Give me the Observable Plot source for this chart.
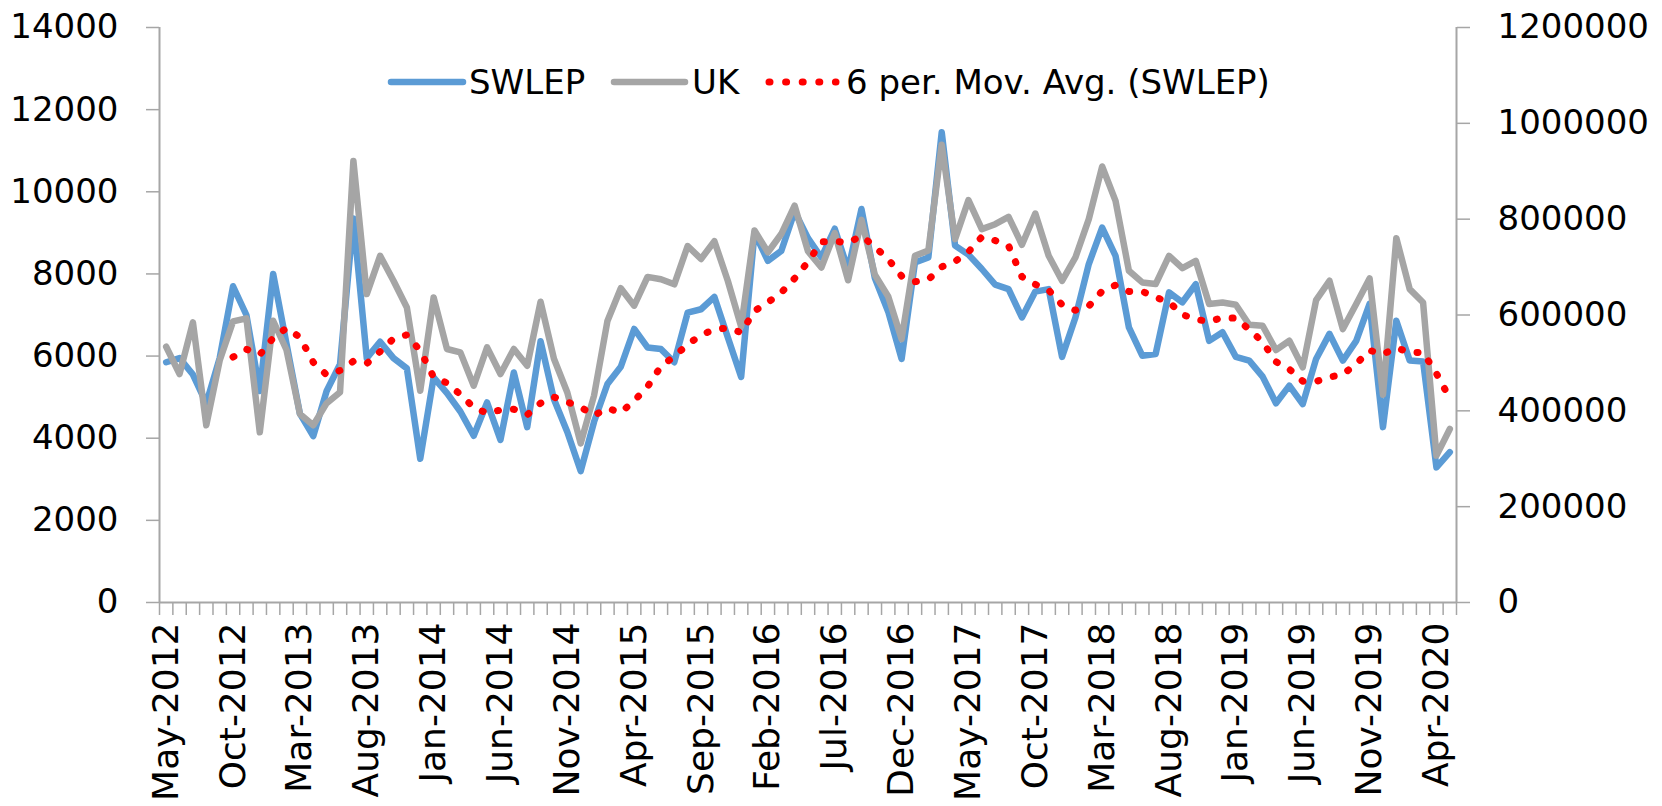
<!DOCTYPE html>
<html>
<head>
<meta charset="utf-8">
<script src="https://cdn.jsdelivr.net/npm/d3@7"></script>
<script src="https://cdn.jsdelivr.net/npm/@observablehq/plot@0.6"></script>
<style>
  html, body { margin: 0; padding: 0; background: #fff; }
  #wrap { position: relative; width: 1662px; height: 806px; }
  #wrap svg { display: block; }
  #legend { position: absolute; left: 0; top: 0; pointer-events: none; }
</style>
</head>
<body>
<div id="wrap"></div>
<script>
// Month categories (May-2012 .. May-2020)
const months = [];
{
  const mn = ["Jan","Feb","Mar","Apr","May","Jun","Jul","Aug","Sep","Oct","Nov","Dec"];
  for (let k = 0; k < 97; k++) {
    const m = (4 + k) % 12, y = 2012 + Math.floor((4 + k) / 12);
    months.push(mn[m] + "-" + y);
  }
}
// Every fifth month is labelled
const labelledMonths = ["May-2012","Oct-2012","Mar-2013","Aug-2013","Jan-2014","Jun-2014","Nov-2014","Apr-2015","Sep-2015","Feb-2016","Jul-2016","Dec-2016","May-2017","Oct-2017","Mar-2018","Aug-2018","Jan-2019","Jun-2019","Nov-2019","Apr-2020"];

// SWLEP (left axis)
const swlep = [5850,5950,5550,4850,5950,7700,7000,5150,8000,6300,
               4600,4050,5150,5800,9350,5950,6350,5950,5700,3500,
               5480,5100,4650,4060,4870,3960,5600,4270,6360,4950,
               4150,3200,4400,5320,5740,6660,6210,6170,5850,7060,
               7140,7440,6460,5490,9000,8320,8560,9520,8870,8400,
               9100,8100,9580,7900,7080,5930,8280,8400,11450,8690,
               8470,8120,7740,7630,6940,7570,7630,5980,6940,8240,
               9130,8440,6700,6010,6050,7550,7310,7750,6370,6580,
               5980,5890,5500,4850,5280,4830,5930,6540,5890,6370,
               7270,4270,6860,5890,5870,3290,3660];

// UK (right axis)
const uk = [533800,476800,584600,370000,505000,586600,593000,355200,588000,527000,
            393500,370000,416000,438600,921600,643600,723500,671400,615800,442000,
            636700,529000,522000,452500,532400,476800,529000,494100,627600,508700,
            438300,332000,432000,587500,656000,619500,679500,674500,664000,744000,
            717000,754000,671400,576000,776500,731000,769000,828000,733000,699000,
            771000,672500,798500,684000,638500,549800,723500,734500,955500,758300,
            839700,779200,789500,804900,746500,811800,723500,671400,720100,800000,
            909900,838200,692300,668000,664500,723500,697800,713100,622800,626200,
            621400,579700,577600,526900,546300,490700,631100,671400,570600,622800,
            676300,433700,760400,654100,626200,306500,362100];

const leftTicks = [0,2000,4000,6000,8000,10000,12000,14000];
const rightTicks = [0,200000,400000,600000,800000,1000000,1200000];
const leftMax = 14000, rightMax = 1200000;
const ratio = rightMax / leftMax;

const seriesNames = ["SWLEP", "UK", "6 per. Mov. Avg. (SWLEP)"];
const colors = {SWLEP: "#5B9BD5", UK: "#A5A5A5", MA: "#FF0000"};

const data = months.map((m, i) => ({month: m, pos: i + 0.5, swlep: swlep[i], uk: uk[i]}));
const labelPos = labelledMonths.map(m => months.indexOf(m) + 0.5);
const boundaries = d3.range(0, months.length + 1);

const axisColor = "#A6A6A6";
const font = "DejaVu Sans";

const chart = Plot.plot({
  width: 1662,
  height: 806,
  marginLeft: 159,
  marginRight: 206,
  marginTop: 27,
  marginBottom: 204,
  style: {fontFamily: font, fontSize: "34px", color: "#000", background: "#fff", overflow: "visible"},
  x: {type: "linear", domain: [0, months.length], axis: null},
  y: {type: "linear", domain: [0, leftMax], axis: null},
  marks: [
    // category boundary tick marks
    Plot.axisX({ticks: boundaries, tickSize: 13, tickFormat: () => "", label: null,
                stroke: axisColor, strokeWidth: 1.5}),
    // month labels
    Plot.axisX({ticks: labelPos, tickSize: 0, tickPadding: 20, tickRotate: -90, label: null,
                fontSize: 36, tickFormat: d => months[Math.round(d - 0.5)], fill: "#000"}),
    // left axis
    Plot.axisY({anchor: "left", ticks: leftTicks, tickSize: 13, tickPadding: 28, label: null,
                tickFormat: d => String(d), stroke: axisColor, strokeWidth: 1.5, fill: "#000"}),
    // right axis
    Plot.axisY({anchor: "right", ticks: rightTicks.map(t => t / ratio), tickSize: 13, tickPadding: 28, label: null,
                tickFormat: d => String(Math.round(d * ratio)), stroke: axisColor, strokeWidth: 1.5, fill: "#000"}),
    // axis lines
    Plot.ruleX([0, months.length], {stroke: axisColor, strokeWidth: 2}),
    Plot.ruleY([0], {stroke: axisColor, strokeWidth: 2}),
    // series
    Plot.line(data, {x: "pos", y: "swlep", stroke: colors.SWLEP, strokeWidth: 6.5,
                     strokeLinejoin: "round", strokeLinecap: "round"}),
    Plot.line(data, {x: "pos", y: d => d.uk / ratio, stroke: colors.UK, strokeWidth: 6.5,
                     strokeLinejoin: "round", strokeLinecap: "round"}),
    Plot.line(data, Plot.windowY({k: 6, anchor: "end", strict: true},
                    {x: "pos", y: "swlep", stroke: colors.MA, strokeWidth: 7,
                     strokeDasharray: "1 15", strokeLinecap: "round", strokeLinejoin: "round"}))
  ]
});
document.getElementById("wrap").appendChild(chart);

// Legend overlay
const leg = d3.select("#wrap").append("svg")
  .attr("id", "legend").attr("width", 1662).attr("height", 806)
  .style("font-family", font).style("font-size", "34px");
const ly = 82;
const items = [
  {name: seriesNames[0], color: colors.SWLEP, x0: 391, x1: 463, tx: 469, dash: null},
  {name: seriesNames[1], color: colors.UK, x0: 614, x1: 685, tx: 692, dash: null},
  {name: seriesNames[2], color: colors.MA, x0: 769, x1: 836, tx: 846, dash: "1 15.6"}
];
for (const it of items) {
  leg.append("line").attr("x1", it.x0).attr("x2", it.x1).attr("y1", ly).attr("y2", ly)
    .attr("stroke", it.color).attr("stroke-width", it.dash ? 7 : 6.5)
    .attr("stroke-linecap", "round").attr("stroke-dasharray", it.dash);
  leg.append("text").attr("x", it.tx).attr("y", ly).attr("dy", "0.36em")
    .attr("fill", "#000").text(it.name);
}
</script>
</body>
</html>
